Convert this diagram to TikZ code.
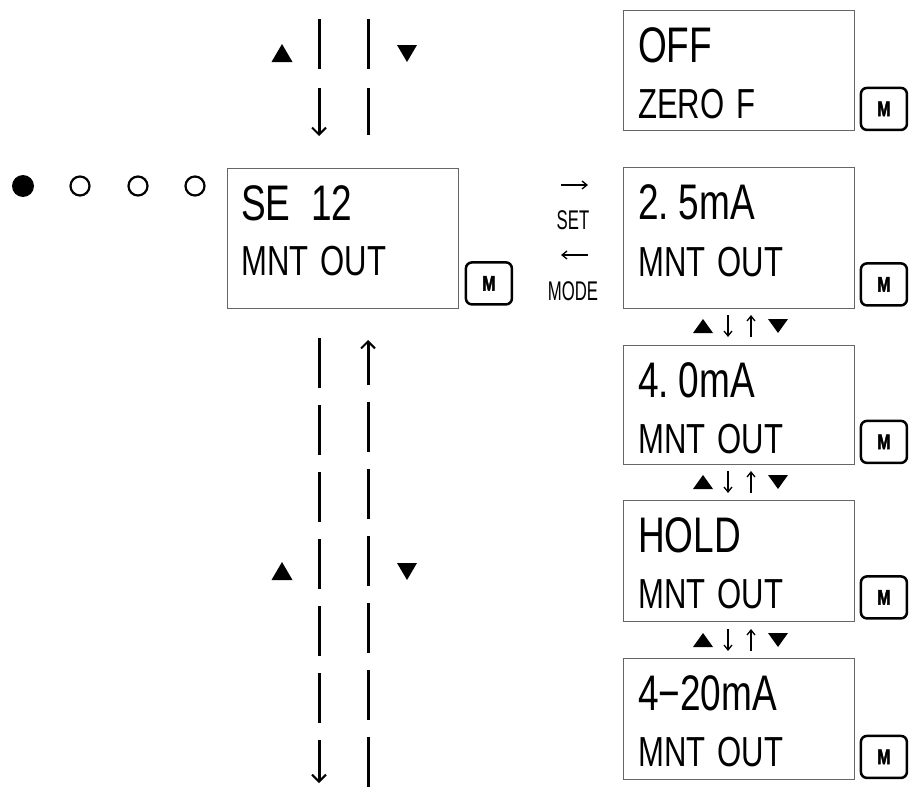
\documentclass[tikz,border=0pt]{standalone}
\usepackage{fontspec}
\setmainfont{Liberation Sans}
\newfontfamily\lcdfont[FakeStretch=0.74]{Liberation Sans}
\newfontfamily\keyfont[FakeStretch=0.75,FakeBold=2]{Liberation Sans Bold}
\newfontfamily\labfont[FakeStretch=0.62]{Liberation Sans}
\usetikzlibrary{calc,arrows.meta}
\begin{document}
\begin{tikzpicture}[x=1pt,y=-1pt,
  lcd/.style={draw=black!60, line width=1.4pt, minimum width=231pt, anchor=north west, inner sep=0pt},
  mkey/.style={draw=black, line width=2.5pt, rounded corners=6pt, minimum width=46pt, minimum height=42pt, inner sep=0pt, font=\keyfont\fontsize{21pt}{21pt}\selectfont},
  topline/.style={anchor=base west, inner sep=0pt, font=\lcdfont\fontsize{50pt}{50pt}\selectfont},
  botline/.style={anchor=base west, inner sep=0pt, font=\lcdfont\fontsize{42pt}{42pt}\selectfont},
  lab/.style={inner sep=0pt, font=\labfont\fontsize{27pt}{27pt}\selectfont},
  flow/.style={line width=3pt},
  tip/.style={-{Straight Barb[length=7pt,width=14pt,line width=2pt]}},
  thinarrow/.style={line width=1.4pt, -{Straight Barb[length=5pt,width=8pt,line width=1.3pt]}},
]
\useasboundingbox[fill=white] (0,0) rectangle (914,787);

% status dots
\fill (23,186) circle[radius=11pt];
\draw[line width=2.2pt] (80,186) circle[radius=9.5pt];
\draw[line width=2.2pt] (138,186) circle[radius=9.5pt];
\draw[line width=2.2pt] (195,186) circle[radius=9.5pt];

% main display
\node[lcd, minimum height=140pt] (main) at (227,168) {};
\node[topline] (mt) at ($(main.north west)+(14,52)$) {SE\ \ 12};
\node[botline] (mb) at ($(main.north west)+(14,107)$) {MNT\hspace{12pt}OUT};
\node[mkey] (mk) at ($(main.south east)+(29.5,-26)$) {M};

% right displays
\node[lcd, minimum height=120pt] (b1) at (623,10) {};
\node[topline] (t1) at ($(b1.north west)+(15,52)$) {OFF};
\node[botline] (s1) at ($(b1.north west)+(15,108)$) {ZERO\hspace{12pt}F};
\node[mkey] (k1) at ($(b1.south east)+(28.5,-22.5)$) {M};

\node[lcd, minimum height=141pt] (b2) at (623,167) {};
\node[topline] (t2) at ($(b2.north west)+(15,52)$) {2.\hspace{-4pt} 5mA};
\node[botline] (s2) at ($(b2.north west)+(15,109)$) {MNT\hspace{12pt}OUT};
\node[mkey] (k2) at ($(b2.south east)+(28.5,-25)$) {M};

\node[lcd, minimum height=119pt] (b3) at (623,345) {};
\node[topline] (t3) at ($(b3.north west)+(15,52)$) {4.\hspace{-4pt} 0mA};
\node[botline] (s3) at ($(b3.north west)+(15,108)$) {MNT\hspace{12pt}OUT};
\node[mkey] (k3) at ($(b3.south east)+(28.5,-23.5)$) {M};

\node[lcd, minimum height=121pt] (b4) at (623,500) {};
\node[topline] (t4) at ($(b4.north west)+(15,52)$) {HOLD};
\node[botline] (s4) at ($(b4.north west)+(15,108)$) {MNT\hspace{12pt}OUT};
\node[mkey] (k4) at ($(b4.south east)+(28.5,-25)$) {M};

\node[lcd, minimum height=121pt] (b5) at (623,658) {};
\node[topline] (t5) at ($(b5.north west)+(15,52)$) {4−20mA};
\node[botline] (s5) at ($(b5.north west)+(15,108)$) {MNT\hspace{12pt}OUT};
\node[mkey] (k5) at ($(b5.south east)+(28.5,-23.5)$) {M};

% SET / MODE
\coordinate (sa1) at (561,185); \coordinate (sa2) at (588,185);
\draw[thinarrow] (sa1) -- (sa2);
\node[lab] (set) at (573,220) {SET};
\coordinate (ma1) at (588,255); \coordinate (ma2) at (561,255);
\draw[thinarrow] (ma1) -- (ma2);
\node[lab] (mode) at (573,291) {MODE};

% step symbols between right displays
\foreach \yc in {326,482,640}{
  \fill (693,\yc+7) -- (713,\yc+7) -- (703,\yc-7) -- cycle;
  \draw[thinarrow] (728,\yc-11) -- (728,\yc+11);
  \draw[thinarrow] (751,\yc+11) -- (751,\yc-11);
  \fill (768,\yc-7) -- (788,\yc-7) -- (778,\yc+7) -- cycle;
}

% upper flow lines
\coordinate (lt1) at (319,19); \coordinate (lt2) at (319,136);
\coordinate (rt1) at (368,19); \coordinate (rt2) at (368,135);
\draw[flow, dash pattern=on 50pt off 19pt, tip] (lt1) -- (lt2);
\draw[flow, dash pattern=on 50pt off 19pt] (rt1) -- (rt2);
\fill (271.5,62) -- (292.5,62) -- (282,44) -- cycle;
\fill (397,45) -- (417,45) -- (407,62) -- cycle;

% lower flow lines
\coordinate (lb1) at (319,338); \coordinate (lb2) at (319,783);
\coordinate (rb1) at (368,787); \coordinate (rb2) at (368,340);
\draw[flow, dash pattern=on 50pt off 17pt, tip] (lb1) -- (lb2);
\draw[flow, dash pattern=on 50pt off 17pt, tip] (rb1) -- (rb2);
\fill (271.5,580) -- (292.5,580) -- (282,562) -- cycle;
\fill (397,563) -- (417,563) -- (407,580) -- cycle;
\end{tikzpicture}
\end{document}
